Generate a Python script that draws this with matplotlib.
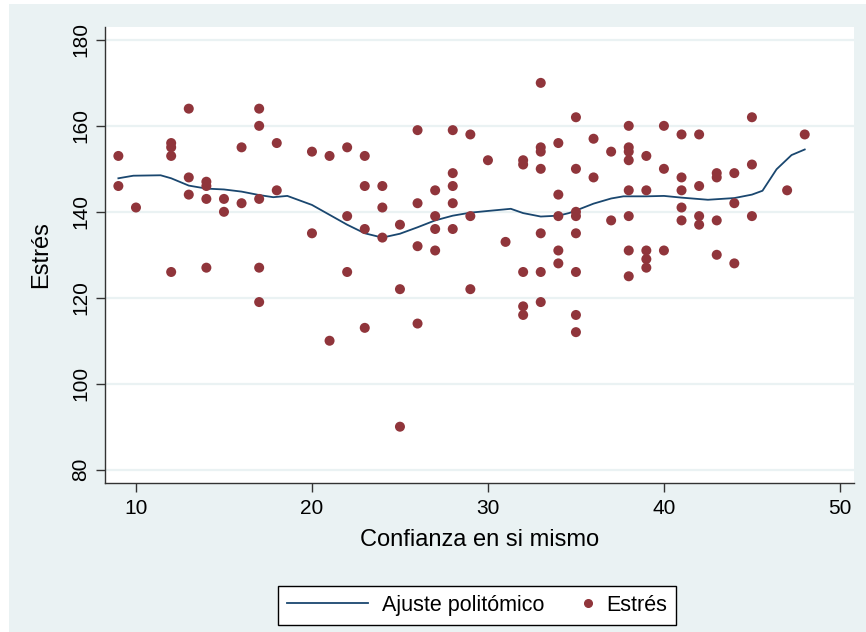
import matplotlib
matplotlib.use("Agg")
import matplotlib.pyplot as plt
from matplotlib.patches import Rectangle
from matplotlib.lines import Line2D
from matplotlib.legend_handler import HandlerBase

plt.rcParams['font.family'] = ['Liberation Sans', 'DejaVu Sans']

# Scatter data: Confianza en si mismo (x) vs Estrés (y)
conf_x = [9, 9, 10, 12, 12, 12, 12, 13, 13, 13, 14, 14, 14, 14, 15, 15, 16, 16,
          17, 17, 17, 17, 17, 18, 18, 20, 20, 21, 21, 22, 22, 22, 23, 23, 23, 23,
          24, 24, 24, 25, 25, 25, 26, 26, 26, 26, 27, 27, 27, 27, 28, 28, 28, 28, 28,
          29, 29, 29, 30, 31, 32, 32, 32, 32, 32, 33, 33, 33, 33, 33, 33, 33,
          34, 34, 34, 34, 34, 35, 35, 35, 35, 35, 35, 35, 35, 36, 36, 37, 37,
          38, 38, 38, 38, 38, 38, 38, 38, 39, 39, 39, 39, 39, 40, 40, 40,
          41, 41, 41, 41, 41, 42, 42, 42, 42, 43, 43, 43, 43, 44, 44, 44,
          45, 45, 45, 47, 48]
estres_y = [153, 146, 141, 156, 155, 153, 126, 164, 148, 144, 147, 146, 143, 127, 143, 140, 155, 142,
            164, 160, 143, 127, 119, 156, 145, 154, 135, 153, 110, 155, 139, 126, 153, 146, 136, 113,
            146, 141, 134, 137, 122, 90, 159, 142, 132, 114, 145, 139, 136, 131, 159, 149, 146, 142, 136,
            158, 139, 122, 152, 133, 152, 151, 126, 118, 116, 170, 155, 154, 150, 135, 126, 119,
            156, 144, 139, 131, 128, 162, 150, 140, 139, 135, 126, 116, 112, 157, 148, 154, 138,
            160, 155, 154, 152, 145, 139, 131, 125, 153, 145, 131, 129, 127, 160, 150, 131,
            158, 148, 145, 141, 138, 158, 146, 139, 137, 149, 148, 138, 130, 149, 142, 128,
            162, 151, 139, 145, 158]

# Fitted curve (Ajuste politómico)
fit_x = [9.0, 9.85, 11.4, 12, 13, 14, 15, 16, 17, 17.8, 18.6, 20, 21, 22, 23, 24, 25, 26,
         27, 28, 29, 30, 31.3, 32, 33, 34, 34.6, 35, 36, 37, 37.7, 38, 39, 40, 41, 42.5,
         44, 45, 45.6, 46.4, 47.25, 48]
fit_y = [147.8, 148.4, 148.5, 147.8, 146.1, 145.4, 145.2, 144.7, 143.9, 143.4, 143.7, 141.6,
         139.3, 137.0, 135.0, 134.0, 134.9, 136.4, 138.0, 139.1, 139.8, 140.2, 140.7, 139.7,
         138.9, 139.1, 139.7, 140.3, 141.9, 143.1, 143.6, 143.6, 143.6, 143.7, 143.3, 142.8,
         143.2, 144.0, 144.9, 149.9, 153.2, 154.5]

x_ticks = [10, 20, 30, 40, 50]
y_ticks = [80, 100, 120, 140, 160, 180]

BG = '#EAF2F3'
RED = '#90353B'
NAVY = '#1A476F'
W, H = 866, 632
fig = plt.figure(figsize=(W / 100, H / 100), dpi=100, facecolor='white')
fig.patches.append(Rectangle((9 / W, 0), 1 - 9 / W, 1 - 4 / H, transform=fig.transFigure,
                             facecolor=BG, edgecolor='none', zorder=-10))

ax = fig.add_axes([105 / W, 1 - 483 / H, (854 - 105) / W, (483 - 27) / H])
ax.set_zorder(1)
ax.set_facecolor('white')
ax.set_xlim(8.24, 50.8)
ax.set_ylim(76.9, 183.0)

ax.set_yticks(y_ticks)
ax.set_xticks(x_ticks)
ax.grid(axis='y', color=BG, linewidth=1.6, zorder=0)
ax.set_axisbelow(True)

for s in ['top', 'right']:
    ax.spines[s].set_visible(False)
for s in ['left', 'bottom']:
    ax.spines[s].set_color('#333333')
    ax.spines[s].set_linewidth(1.0)

ax.tick_params(axis='both', direction='out', length=6.5, width=1.0, color='#333333',
               labelsize=15, labelcolor='black')
ax.tick_params(axis='y', pad=4)
ax.tick_params(axis='x', pad=5)
for lab in ax.get_yticklabels():
    lab.set_rotation(90)
    lab.set_va('center')

line, = ax.plot(fit_x, fit_y, color=NAVY, linewidth=1.3, zorder=3,
                label='Ajuste politómico')
sc = ax.scatter(conf_x, estres_y, s=52, color=RED, edgecolors='none', zorder=4,
                label='Estrés')

ax.set_xlabel('Confianza en si mismo', fontsize=17, labelpad=8)
ax.set_ylabel('Estrés', fontsize=17)
ax.yaxis.set_label_coords(-0.0708, 0.5)


class RightMarker(HandlerBase):
    def create_artists(self, legend, orig_handle, xdescent, ydescent, width, height,
                       fontsize, trans):
        x = width - xdescent - 0.2 * fontsize
        y = height / 2 - ydescent
        m = Line2D([x], [y], marker='o', linestyle='none', color=RED,
                   markersize=5.5, transform=trans)
        return [m]


leg = fig.legend(handles=[line, sc], labels=['Ajuste politómico', 'Estrés'],
                 loc='center', bbox_to_anchor=(477 / W, 1 - 605.5 / H),
                 ncol=2, fontsize=15.5, frameon=True, fancybox=False, edgecolor='black',
                 facecolor='white', framealpha=1, handlelength=3.8, columnspacing=-1.58,
                 borderpad=0.42, handletextpad=0.65,
                 handler_map={type(sc): RightMarker()})
leg.get_frame().set_linewidth(1.0)

fig.savefig('out.png', dpi=100, facecolor=fig.get_facecolor())
